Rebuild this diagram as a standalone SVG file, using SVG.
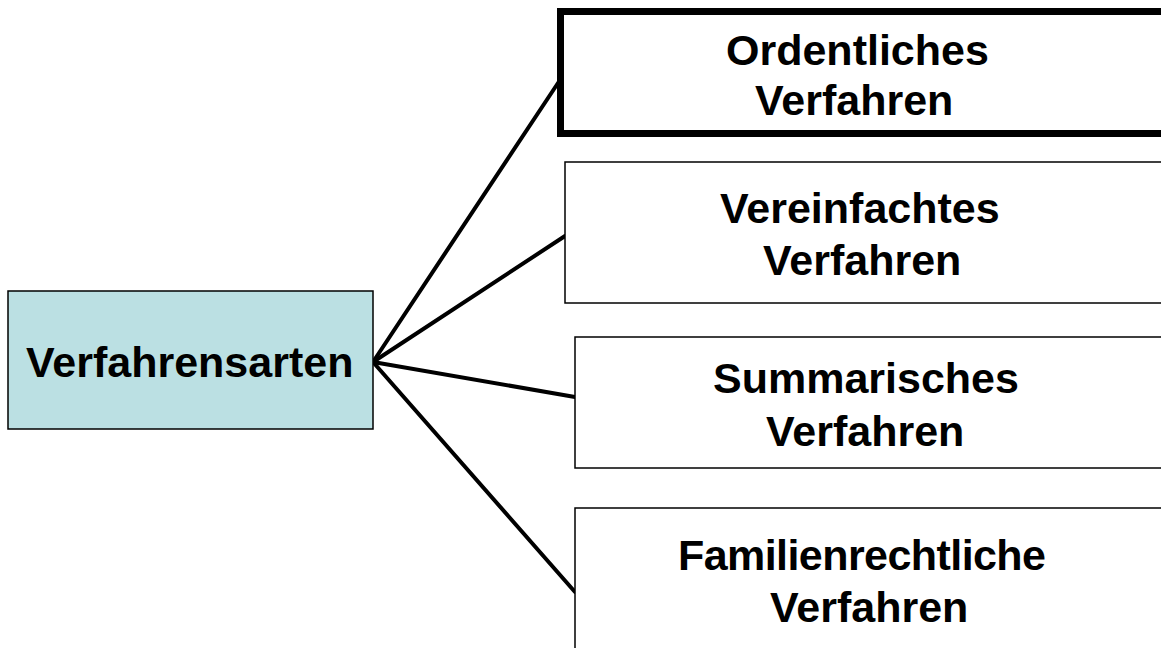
<svg xmlns="http://www.w3.org/2000/svg" width="1161" height="648" viewBox="0 0 1161 648">
<style>
.t{font-family:"Liberation Sans",Arial,sans-serif;font-weight:bold;font-size:43px;fill:#000}
.box{fill:#fff;stroke:#000;stroke-width:1.5}
.conn{stroke:#000;stroke-width:4;fill:none;stroke-linecap:round}
</style>
<rect width="1161" height="648" fill="#fff"/>
<g id="connectors">
<line class="conn" x1="373" y1="362" x2="560" y2="80"/>
<line class="conn" x1="373" y1="362" x2="565" y2="236"/>
<line class="conn" x1="373" y1="362" x2="575" y2="397"/>
<line class="conn" x1="373" y1="362" x2="575" y2="592"/>
</g>
<g id="hub">
<rect x="8" y="291" width="365" height="138" fill="#bbe0e3" stroke="#000" stroke-width="1.5"/>
<text class="t" x="26" y="377">Verfahrensarten</text>
</g>
<g id="n1">
<rect x="560.5" y="11.5" width="620" height="122" fill="#fff" stroke="#000" stroke-width="7"/>
<text class="t" x="726" y="65">Ordentliches</text>
<text class="t" x="755" y="115">Verfahren</text>
</g>
<g id="n2">
<rect class="box" x="565" y="162" width="620" height="141"/>
<text class="t" x="720" y="223">Vereinfachtes</text>
<text class="t" x="763" y="275">Verfahren</text>
</g>
<g id="n3">
<rect class="box" x="575" y="337" width="620" height="131"/>
<text class="t" x="713" y="393">Summarisches</text>
<text class="t" x="766" y="446">Verfahren</text>
</g>
<g id="n4">
<rect class="box" x="575" y="508" width="620" height="160"/>
<text class="t" x="678" y="570" textLength="368" lengthAdjust="spacing">Familienrechtliche</text>
<text class="t" x="770" y="622">Verfahren</text>
</g>
</svg>
